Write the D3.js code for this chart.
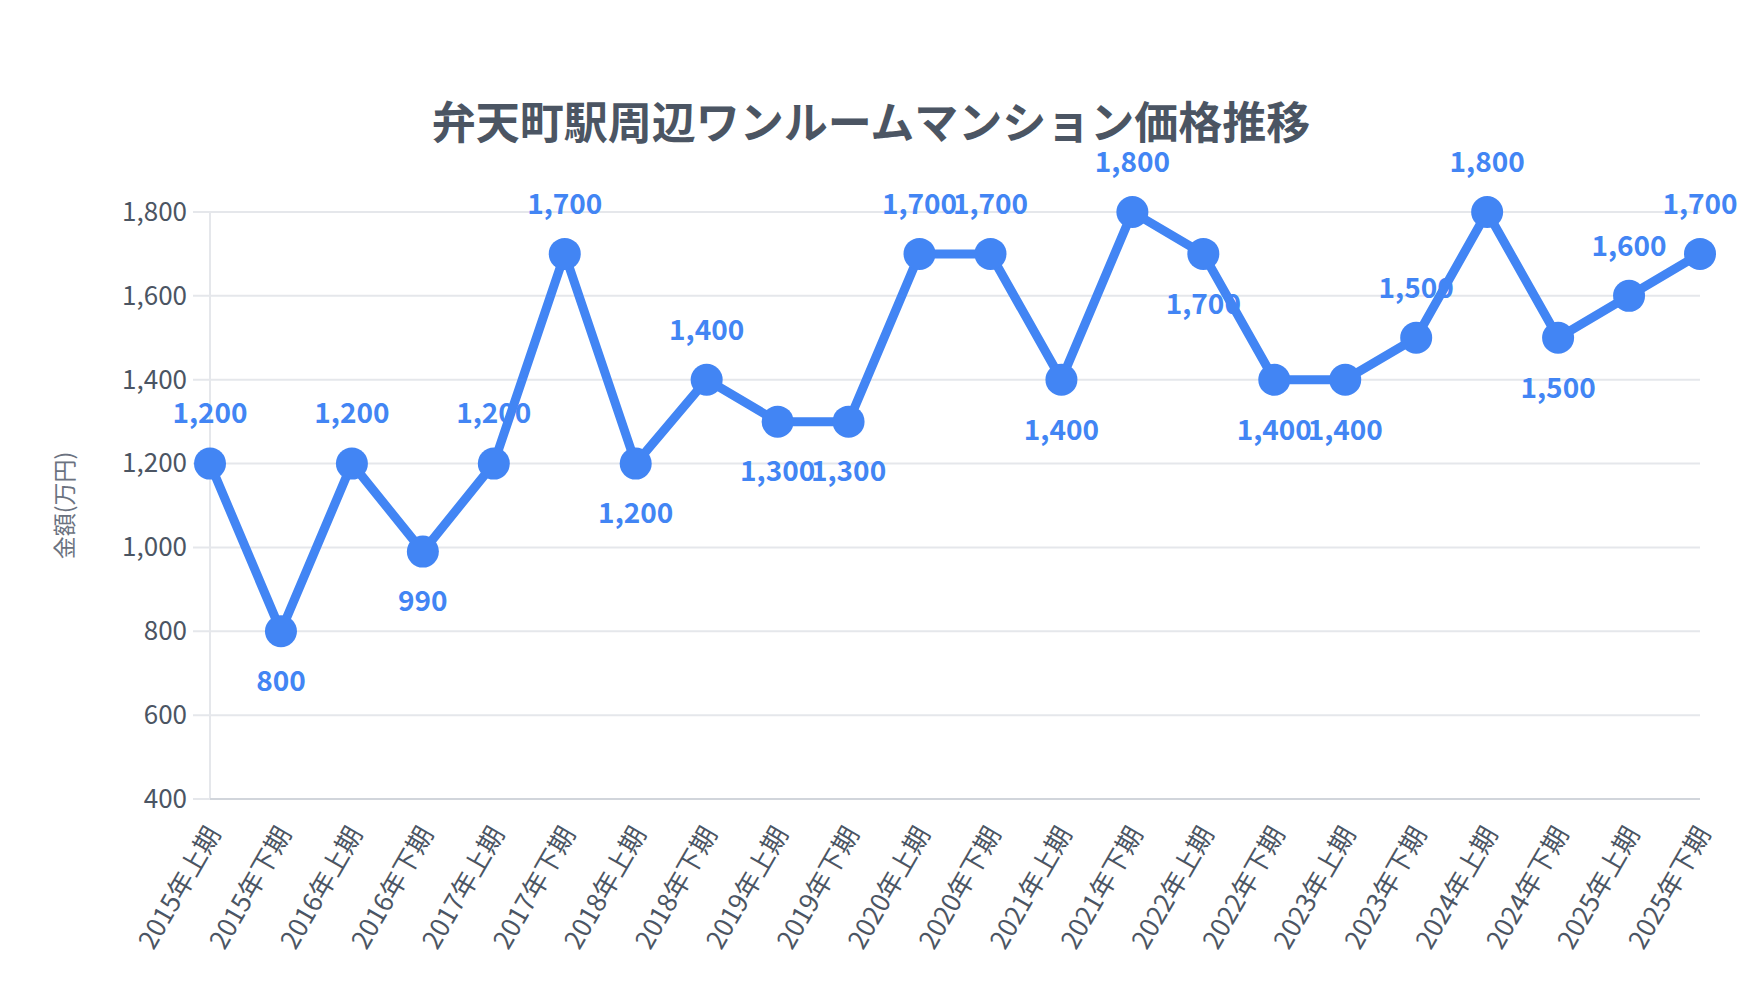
<!DOCTYPE html>
<html><head><meta charset="utf-8">
<script src="https://cdn.jsdelivr.net/npm/d3@7/dist/d3.min.js"></script>
<style>
html,body{margin:0;padding:0;background:#fff;}
svg{display:block;font-family:"Noto Sans CJK JP","Noto Sans",sans-serif;}
</style></head>
<body>
<svg id="chart" width="1760" height="1000"></svg>
<script>
const categories = ["2015年上期","2015年下期","2016年上期","2016年下期","2017年上期","2017年下期","2018年上期","2018年下期","2019年上期","2019年下期","2020年上期","2020年下期","2021年上期","2021年下期","2022年上期","2022年下期","2023年上期","2023年下期","2024年上期","2024年下期","2025年上期","2025年下期"];
const prices = [1200,800,1200,990,1200,1700,1200,1400,1300,1300,1700,1700,1400,1800,1700,1400,1400,1500,1800,1500,1600,1700];
const yTicks = [400,600,800,1000,1200,1400,1600,1800];
const titleText = "弁天町駅周辺ワンルームマンション価格推移";
const yAxisTitle = "金額(万円)";

const W = 1760, H = 1000;
const m = {left:210, right:60, top:212, bottom:201};
const svg = d3.select("#chart");
const blue = "#4285f4";
const textCol = "#4b5563";
const ff = '"Noto Sans CJK JP","Noto Sans",sans-serif';

const x = d3.scalePoint().domain(categories).range([m.left, W - m.right]).padding(0);
const y = d3.scaleLinear().domain([400,1800]).range([H - m.bottom, m.top]);

// grid
svg.append("g").selectAll("line").data(yTicks).join("line")
  .attr("x1", m.left - 17).attr("x2", W - m.right)
  .attr("y1", d => y(d)).attr("y2", d => y(d))
  .attr("stroke", "#e5e7eb").attr("stroke-width", 2);

// y axis line
svg.append("line").attr("x1", m.left).attr("x2", m.left)
  .attr("y1", y(1800)).attr("y2", y(400)).attr("stroke", "#e5e7eb").attr("stroke-width", 2);
// x axis line
svg.append("line").attr("x1", m.left).attr("x2", W - m.right)
  .attr("y1", y(400)).attr("y2", y(400)).attr("stroke", "#d1d5db").attr("stroke-width", 2);

// y tick labels
const yAxis = d3.axisLeft(y).tickValues(yTicks).tickSize(0).tickPadding(0).tickFormat(d3.format(","));
const yg = svg.append("g").attr("transform", `translate(${m.left - 23},0)`).call(yAxis);
yg.select(".domain").remove();
yg.selectAll("text").attr("fill", textCol).style("font-size", "26px").style("font-family", ff);

// x tick labels
const xAxis = d3.axisBottom(x).tickSize(0).tickPadding(0);
const xg = svg.append("g").attr("transform", `translate(0,${y(400)})`).call(xAxis);
xg.select(".domain").remove();
xg.selectAll("text").attr("fill", textCol).style("font-size", "26px").style("font-family", ff)
  .attr("text-anchor", "end").attr("dy", "0.35em")
  .attr("transform", "translate(3,30) rotate(-60)")
  .attr("y", 0);

// line
const line = d3.line().x((d,i) => x(categories[i])).y(d => y(d));
svg.append("path").datum(prices).attr("d", line)
  .attr("fill", "none").attr("stroke", blue).attr("stroke-width", 9)
  .attr("stroke-linejoin", "round");

// points
svg.append("g").selectAll("circle").data(prices).join("circle")
  .attr("cx", (d,i) => x(categories[i])).attr("cy", d => y(d))
  .attr("r", 16).attr("fill", blue);

// label placement: above when rising, below when falling, keep when equal
const place = [];
prices.forEach((v,i) => {
  if (i === 0) place.push(1);
  else if (v > prices[i-1]) place.push(1);
  else if (v < prices[i-1]) place.push(-1);
  else place.push(place[i-1]);
});
svg.append("g").selectAll("text").data(prices).join("text")
  .attr("x", (d,i) => x(categories[i]))
  .attr("y", (d,i) => y(d) - place[i]*50)
  .attr("dy", "0.35em")
  .attr("text-anchor", "middle")
  .attr("fill", blue).style("font-size", "28px").style("font-weight", "700")
  .text(d => d3.format(",")(d));

// title
svg.append("text").attr("x", 871).attr("y", 123).attr("dy", "0.36em")
  .attr("text-anchor", "middle").attr("fill", textCol)
  .style("font-size", "44px").style("font-weight", "700").text(titleText);

// y axis title
svg.append("text").attr("transform", `translate(65,${(y(400)+y(1800))/2}) rotate(-90)`)
  .attr("text-anchor", "middle").attr("dy", "0.35em")
  .attr("fill", "#6b7280").style("font-size", "23px").text(yAxisTitle);
</script>
</body></html>
